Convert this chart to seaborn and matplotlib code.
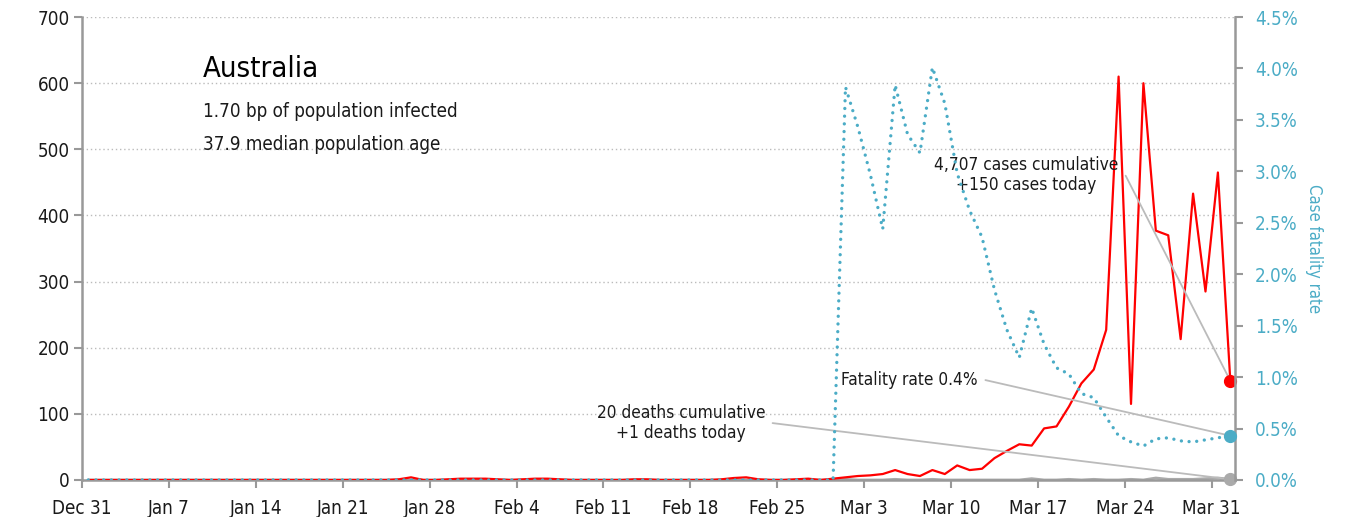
import pandas as pd
import seaborn as sns
import matplotlib.pyplot as plt
from matplotlib.ticker import FuncFormatter, MultipleLocator

# Daily series, one value per day from Dec 31 to Apr 1 (plotted at noon)
start_day = "2019-12-31 12:00"
end_day = "2020-04-01 12:00"

new_cases = [
    0, 0, 0, 0, 0, 0, 0, 0, 0, 0,
    0, 0, 0, 0, 0, 0, 0, 0, 0, 0,
    0, 0, 0, 0, 0, 1, 4, 0, 0, 1,
    2, 2, 2, 1, 0, 1, 2, 2, 1, 0,
    0, 0, 0, 0, 1, 1, 0, 0, 0, 0,
    0, 1, 3, 4, 1, 0, 0, 1, 2, 0,
    2, 4, 6, 7, 9, 15, 9, 6, 15, 9,
    22, 15, 17, 33, 44, 54, 52, 78, 81, 111,
    146, 167, 227, 610, 115, 600, 377, 370, 213, 433,
    285, 465, 150,
]

new_deaths = [
    0, 0, 0, 0, 0, 0, 0, 0, 0, 0,
    0, 0, 0, 0, 0, 0, 0, 0, 0, 0,
    0, 0, 0, 0, 0, 0, 0, 0, 0, 0,
    0, 0, 0, 0, 0, 0, 0, 0, 0, 0,
    0, 0, 0, 0, 0, 0, 0, 0, 0, 0,
    0, 0, 0, 0, 0, 0, 0, 0, 0, 0,
    0, 1, 0, 0, 0, 1, 0, 0, 1, 0,
    0, 0, 0, 0, 0, 0, 2, 0, 0, 1,
    0, 1, 0, 0, 1, 0, 3, 1, 1, 1,
    2, 3, 1,
]

# case fatality rate, percent
fatality_rate = [
    0, 0, 0, 0, 0, 0, 0, 0, 0, 0,
    0, 0, 0, 0, 0, 0, 0, 0, 0, 0,
    0, 0, 0, 0, 0, 0, 0, 0, 0, 0,
    0, 0, 0, 0, 0, 0, 0, 0, 0, 0,
    0, 0, 0, 0, 0, 0, 0, 0, 0, 0,
    0, 0, 0, 0, 0, 0, 0, 0, 0, 0,
    0, 3.82, 3.43, 2.97, 2.44, 3.84, 3.36, 3.18, 4.01, 3.66,
    2.98, 2.62, 2.36, 1.85, 1.46, 1.19, 1.67, 1.32, 1.09, 1.03,
    0.84, 0.80, 0.61, 0.43, 0.37, 0.33, 0.40, 0.41, 0.38, 0.37,
    0.39, 0.41, 0.43,
]

tick_dates = ["2019-12-31", "2020-01-07", "2020-01-14", "2020-01-21", "2020-01-28",
              "2020-02-04", "2020-02-11", "2020-02-18", "2020-02-25", "2020-03-03",
              "2020-03-10", "2020-03-17", "2020-03-24", "2020-03-31"]
tick_labels = ["Dec 31", "Jan 7", "Jan 14", "Jan 21", "Jan 28", "Feb 4", "Feb 11",
               "Feb 18", "Feb 25", "Mar 3", "Mar 10", "Mar 17", "Mar 24", "Mar 31"]

country = "Australia"
info_lines = ["1.70 bp of population infected", "37.9 median population age"]
cases_note = "4,707 cases cumulative\n+150 cases today"
rate_note = "Fatality rate 0.4%"
deaths_note = "20 deaths cumulative\n+1 deaths today"

RED = "#ff0000"
CYAN = "#4bacc6"
GREY = "#aaaaaa"
AXIS = "#999999"
TEXT = "#1a1a1a"

sns.set_style("white")
plt.rcParams["font.family"] = ["DejaVu Sans"]
plt.rcParams["font.stretch"] = "condensed"

df = pd.DataFrame({
    "date": pd.date_range(start_day, end_day, freq="D"),
    "cases": new_cases,
    "deaths": new_deaths,
    "cfr": [v / 100 for v in fatality_rate],
})
last = df.iloc[-1]

fig, ax = plt.subplots(figsize=(13.45, 5.17), dpi=100)
fig.subplots_adjust(left=0.061, right=0.918, top=0.967, bottom=0.0716)

sns.lineplot(data=df, x="date", y="deaths", ax=ax, color=GREY, lw=2, zorder=2)
sns.lineplot(data=df, x="date", y="cases", ax=ax, color=RED, lw=1.6, zorder=3)
ax.plot(last["date"], last["cases"], "o", color=RED, ms=8.5, zorder=6, clip_on=False)
ax.plot(last["date"], last["deaths"], "o", color=GREY, ms=8.5, zorder=6, clip_on=False)

ax2 = ax.twinx()
sns.lineplot(data=df, x="date", y="cfr", ax=ax2, color=CYAN, lw=2.4,
             linestyle=(0, (0.01, 2.3)), dash_capstyle="round", zorder=4)
ax2.plot(last["date"], last["cfr"], "o", color=CYAN, ms=8.5, zorder=6, clip_on=False)

# axes limits and ticks
ax.set_xlim(pd.Timestamp("2019-12-31"), pd.Timestamp("2020-04-01 20:30"))
ax.set_ylim(0, 700)
ax.yaxis.set_major_locator(MultipleLocator(100))
ax.set_xticks(pd.to_datetime(tick_dates))
ax.set_xticklabels(tick_labels)
ax2.set_ylim(0, 0.045)
ax2.yaxis.set_major_locator(MultipleLocator(0.005))
ax2.yaxis.set_major_formatter(FuncFormatter(lambda v, _: f"{v * 100:.1f}%"))

ax.set_xlabel("")
ax.set_ylabel("")
ax2.set_xlabel("")
ax2.set_ylabel("Case fatality rate", rotation=270, color=CYAN, fontsize=12, labelpad=18)

ax.yaxis.grid(True, color="#bbbbbb", linestyle=(0, (1, 2)), lw=1)
ax.xaxis.grid(False)
ax.set_axisbelow(True)

for a in (ax, ax2):
    for side in ("top", "right", "left", "bottom"):
        a.spines[side].set_visible(False)
for side in ("left", "bottom"):
    ax.spines[side].set_visible(True)
    ax.spines[side].set_color(AXIS)
    ax.spines[side].set_linewidth(1.8)
ax2.spines["right"].set_visible(True)
ax2.spines["right"].set_color(AXIS)
ax2.spines["right"].set_linewidth(1.8)

ax.tick_params(axis="y", direction="out", length=6, width=1.5, color=AXIS,
               labelsize=13.5, labelcolor=TEXT, pad=3, left=True)
ax.tick_params(axis="x", direction="out", length=6, width=1.5, color=AXIS,
               labelsize=13.5, labelcolor=TEXT, pad=8, bottom=True)
ax2.tick_params(axis="y", direction="out", length=6, width=1.5, color=AXIS,
                labelsize=13.5, labelcolor=CYAN, pad=8.5, right=True)

# headline block
ax.text(0.105, 0.870, country, transform=ax.transAxes, fontsize=21,
        color="black", va="baseline", ha="left")
ax.text(0.105, 0.784, info_lines[0], transform=ax.transAxes, fontsize=13.5,
        color=TEXT, va="baseline", ha="left")
ax.text(0.105, 0.713, info_lines[1], transform=ax.transAxes, fontsize=13.5,
        color=TEXT, va="baseline", ha="left")

# leader annotations
leader = dict(arrowstyle="-", color="#bbbbbb", lw=1.3, relpos=(1, 0.5),
              shrinkA=3, shrinkB=0,
              connectionstyle="arc,angleA=0,armA=7,angleB=0,armB=0,rad=0")
ax.annotate(cases_note, xy=(last["date"], last["cases"]), xycoords="data",
            xytext=(0.819, 0.659), textcoords="axes fraction",
            ha="center", va="center", multialignment="center",
            fontsize=12.4, color=TEXT, arrowprops=leader, zorder=5)
ax2.annotate(rate_note, xy=(last["date"], last["cfr"]), xycoords="data",
             xytext=(0.718, 0.216), textcoords="axes fraction",
             ha="center", va="center", fontsize=12.4, color=TEXT,
             arrowprops=leader, zorder=5)
ax.annotate(deaths_note, xy=(last["date"], last["deaths"]), xycoords="data",
            xytext=(0.5195, 0.123), textcoords="axes fraction",
            ha="center", va="center", multialignment="center",
            fontsize=12.4, color=TEXT, arrowprops=leader, zorder=5)

fig.savefig("out.png", dpi=100)
